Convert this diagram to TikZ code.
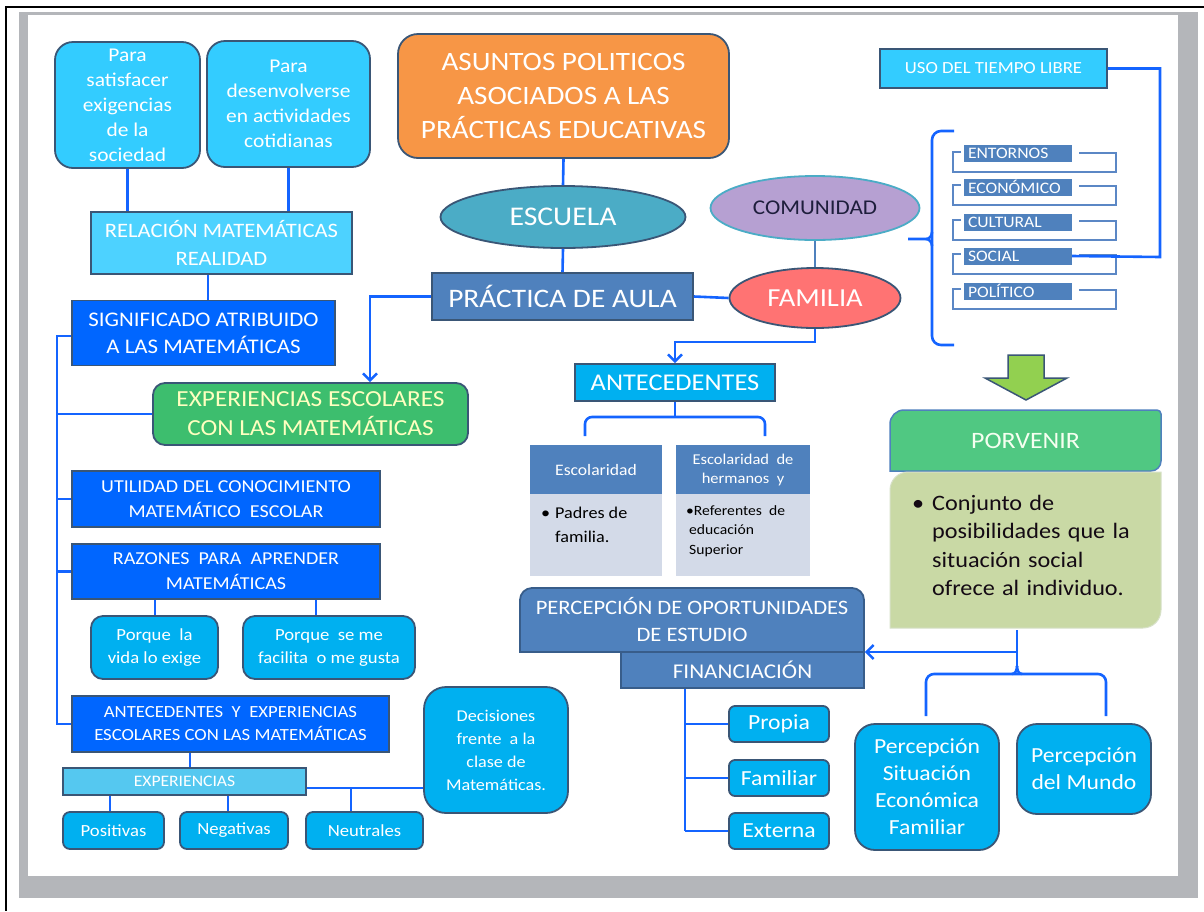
\documentclass[tikz,border=0pt]{standalone}
\usepackage{fontspec}
\setmainfont{Carlito}[FakeStretch=1.1]
\usetikzlibrary{arrows.meta,shapes.geometric}
\definecolor{cyanA}{HTML}{33CCFF}
\definecolor{cyanB}{HTML}{4DD2FF}
\definecolor{blueA}{HTML}{0066FF}
\definecolor{cyanC}{HTML}{00B0F0}
\definecolor{cyanD}{HTML}{55C8F0}
\definecolor{steel}{HTML}{4F81BD}
\definecolor{bord}{HTML}{3A5676}
\definecolor{lineblue}{HTML}{1464FF}
\definecolor{orangeA}{HTML}{F79646}
\definecolor{teal}{HTML}{4BACC6}
\definecolor{lilac}{HTML}{B6A0D2}
\definecolor{salmon}{HTML}{FF7373}
\definecolor{greenA}{HTML}{3DBE6E}
\definecolor{greenB}{HTML}{50C882}
\definecolor{olive}{HTML}{C9D9A5}
\definecolor{lime}{HTML}{92D050}
\definecolor{tabbody}{HTML}{D3DAE8}
\definecolor{lightyel}{HTML}{FFFFC0}
\definecolor{listline}{HTML}{5B87C5}
\definecolor{shadowgray}{HTML}{B4B6BA}
\definecolor{percbord}{HTML}{385D8A}
\tikzset{
  conn/.style={draw=lineblue, line width=2.6pt},
  bx/.style={draw=bord, line width=1.8pt, inner sep=0pt, align=center, text=white},
  arr/.style={-{Straight Barb[length=7pt,width=14pt,line width=2.4pt]}},
  lst/.style={fill=steel, inner sep=0pt, text=white, minimum height=17pt, text width=100pt, align=left, inner xsep=4pt, font=\fontsize{16}{17}\selectfont},
  lbr/.style={draw=listline, line width=1.8pt},
}
\begin{document}
\begin{tikzpicture}[x=1pt,y=-1pt]
\useasboundingbox (0,0) rectangle (1204,911);
\fill[white] (0,0) rectangle (1204,911);
% page frame
\fill[shadowgray] (19,12) rectangle (1198,898);
\fill[white] (28,15) rectangle (1178,876);
\draw[black, line width=2pt] (5,7) -- (1204,7);
\draw[black, line width=2pt] (6,7) -- (6,911);

% ---------- left column ----------
\node[bx, fill=cyanA, rounded corners=18pt, minimum width=145pt, minimum height=126pt,
  font=\fontsize{19.5}{25}\selectfont] (top1) at (127.5,105) {Para\\satisfacer\\exigencias\\de la\\sociedad};
\node[bx, fill=cyanA, rounded corners=18pt, minimum width=163pt, minimum height=126pt,
  font=\fontsize{19.5}{25}\selectfont] (top2) at (288.5,104) {Para\\desenvolverse\\en actividades\\cotidianas};
\node[bx, fill=cyanB, minimum width=261pt, minimum height=62pt,
  font=\fontsize{20.5}{28}\selectfont] (rel) at (221.5,243) {RELACIÓN MATEMÁTICAS\\REALIDAD};
\node[bx, fill=blueA, minimum width=263pt, minimum height=65pt,
  font=\fontsize{20.8}{27}\selectfont] (sig) at (203.5,333) {SIGNIFICADO ATRIBUIDO\\A LAS MATEMÁTICAS};
\node[bx, fill=greenA, text=lightyel, rounded corners=12pt, minimum width=315pt, minimum height=62pt,
  font=\fontsize{23}{29}\selectfont] (exp) at (310.5,414) {EXPERIENCIAS ESCOLARES\\CON LAS MATEMÁTICAS};
\node[bx, fill=blueA, minimum width=308pt, minimum height=56pt,
  font=\fontsize{18.2}{25}\selectfont] (util) at (226,499) {UTILIDAD DEL CONOCIMIENTO\\MATEMÁTICO\ \ ESCOLAR};
\node[bx, fill=blueA, minimum width=308pt, minimum height=55pt,
  font=\fontsize{18.2}{25}\selectfont] (raz) at (226,571.5) {RAZONES\ \ PARA\ \ APRENDER\\MATEMÁTICAS};
\node[bx, fill=cyanC, rounded corners=12pt, minimum width=127pt, minimum height=63pt,
  font=\fontsize{17}{23}\selectfont] (porq1) at (154.5,647.5) {Porque\ \ la\\vida lo exige};
\node[bx, fill=cyanC, rounded corners=12pt, minimum width=172pt, minimum height=63pt,
  font=\fontsize{17}{23}\selectfont] (porq2) at (329,647.5) {Porque\ \ se me\\facilita\ \ o me gusta};
\node[bx, fill=blueA, minimum width=317pt, minimum height=56pt,
  font=\fontsize{17}{23}\selectfont] (ant2) at (230.5,724) {ANTECEDENTES\ \ Y\ \ EXPERIENCIAS\\ESCOLARES CON LAS MATEMÁTICAS};
\node[bx, fill=cyanD, line width=1.5pt, minimum width=243pt, minimum height=27pt,
  font=\fontsize{16}{18}\selectfont] (expsm) at (184.5,781.5) {EXPERIENCIAS};
\node[bx, fill=cyanC, rounded corners=7pt, minimum width=101pt, minimum height=37pt,
  font=\fontsize{17}{19}\selectfont] (pos) at (113.5,830.5) {Positivas};
\node[bx, fill=cyanC, rounded corners=7pt, minimum width=108pt, minimum height=37pt,
  font=\fontsize{17}{19}\selectfont] (neg) at (234,830.5) {Negativas};
\node[bx, fill=cyanC, rounded corners=7pt, minimum width=117pt, minimum height=37pt,
  font=\fontsize{17}{19}\selectfont] (neu) at (364.5,830.5) {Neutrales};
\node[bx, fill=cyanC, rounded corners=22pt, minimum width=144pt, minimum height=126pt,
  font=\fontsize{16.5}{23}\selectfont] (dec) at (496,750) {Decisiones\\frente\ \ a la\\clase\ de\\Matemáticas.};

% ---------- centre ----------
\node[bx, fill=orangeA, rounded corners=20pt, minimum width=331pt, minimum height=124pt,
  font=\fontsize{26.5}{34}\selectfont] (asun) at (563.5,96) {ASUNTOS POLITICOS\\ASOCIADOS A LAS\\PRÁCTICAS EDUCATIVAS};
\node[bx, ellipse, fill=teal, minimum width=245pt, minimum height=62pt,
  font=\fontsize{27}{30}\selectfont] (esc) at (563,217) {ESCUELA};
\node[bx, fill=steel, minimum width=261pt, minimum height=47pt,
  font=\fontsize{26.7}{30}\selectfont] (prac) at (562.5,296.5) {PRÁCTICA DE AULA};
\node[bx, ellipse, fill=lilac, draw=teal, text={rgb,255:red,30;green,30;blue,60}, minimum width=209pt, minimum height=64pt,
  font=\fontsize{21}{24}\selectfont] (com) at (815,208) {COMUNIDAD};
\node[bx, ellipse, fill=salmon, minimum width=171pt, minimum height=60pt,
  font=\fontsize{26}{30}\selectfont] (fam) at (815,298) {FAMILIA};
\node[bx, fill=cyanC, minimum width=200pt, minimum height=37pt,
  font=\fontsize{24}{26}\selectfont] (ante) at (675,382.5) {ANTECEDENTES};

% table
\node[fill=steel, text=white, inner sep=0pt, minimum width=132pt, minimum height=49pt,
  font=\fontsize{16}{18}\selectfont] (tl) at (596,469.5) {Escolaridad};
\fill[tabbody] (530,494) rectangle (662,576);
\node[anchor=north west, inner sep=0pt, align=left,
  font=\fontsize{16.5}{24}\selectfont] (tlb) at (541,507) {\makebox[14pt][l]{\textbullet}Padres de\\\hspace*{14pt}familia.};
\node[fill=steel, text=white, inner sep=0pt, minimum width=134pt, minimum height=49pt, align=center,
  font=\fontsize{15}{19}\selectfont] (tr) at (743,469.5) {Escolaridad\ \ de\\hermanos\ \ y};
\fill[tabbody] (676,494) rectangle (810,576);
\node[anchor=north west, inner sep=0pt, align=left,
  font=\fontsize{14.2}{19.5}\selectfont] (trb) at (686,505) {\textbullet Referentes\ \ de\\\hspace*{3pt}educación\\\hspace*{3pt}Superior};

\node[bx, fill=steel, draw=percbord, minimum width=344pt, minimum height=64pt,
  rounded corners=12pt] (perc) at (692,620) {};
\fill[steel] (521,630) rectangle (863,651);
\draw[draw=percbord, line width=1.8pt] (520,625) -- (520,652) -- (864,652) -- (864,625);
\node[bx, fill=steel, draw=percbord, minimum width=243pt, minimum height=36pt,
  font=\fontsize{21}{24}\selectfont] (fin) at (742.5,670) {FINANCIACIÓN};
\node (perct) at (692,620) [align=center, text=white, font=\fontsize{20.5}{27}\selectfont] {PERCEPCIÓN DE OPORTUNIDADES\\DE ESTUDIO};

\node[bx, fill=cyanC, rounded corners=6pt, minimum width=100pt, minimum height=36pt,
  font=\fontsize{21.5}{24}\selectfont] (propia) at (779,724) {Propia};
\node[bx, fill=cyanC, rounded corners=6pt, minimum width=100pt, minimum height=36pt,
  font=\fontsize{21.5}{24}\selectfont] (famil) at (779,778) {Familiar};
\node[bx, fill=cyanC, rounded corners=6pt, minimum width=100pt, minimum height=36pt,
  font=\fontsize{21.5}{24}\selectfont] (ext) at (779,831) {Externa};

% ---------- right ----------
\node[bx, fill=cyanA, minimum width=227pt, minimum height=39pt,
  font=\fontsize{17}{18}\selectfont] (uso) at (993.5,68.5) {USO DEL TIEMPO LIBRE};

\node[lst] (l1) at (1018,153.5) {ENTORNOS};
\node[lst] (l2) at (1018,187) {ECONÓMICO};
\node[lst] (l3) at (1018,222) {CULTURAL};
\node[lst] (l4) at (1018,256) {SOCIAL};
\node[lst] (l5) at (1018,291) {POLÍTICO};
\foreach \yt in {145,178,213,247,282}{
  \draw[lbr] (961,\yt+7) -- (953,\yt+7) -- (953,\yt+27) -- (1116,\yt+27) -- (1116,\yt+8) -- (1079,\yt+8);
}

% big brace
\coordinate (bt) at (954,131);
\coordinate (bb) at (954,345);
\coordinate (btip) at (908,239);
\draw[conn, rounded corners=9pt] (bt) -- (932,131) -- (932,345) -- (bb);
\draw[conn] (btip) -- (926,239) to[out=0,in=-90] (932,232);
\draw[conn] (926,239) to[out=0,in=90] (932,246);

% green arrow
\draw[fill=lime, draw=bord, line width=1.5pt, line join=miter] (1008,355) -- (1044,355) -- (1044,378) -- (1067,378) -- (1026,400) -- (985,378) -- (1008,378) -- cycle;

% porvenir
\path[fill=greenB, draw=steel, line width=1.5pt] [rounded corners=14pt] (890,471) -- (890,410) [rounded corners=4pt] -- (1161,410) [rounded corners=10pt] -- (1161,471) [sharp corners] -- cycle;
\node[text={rgb,255:red,245;green,255;blue,240}, font=\fontsize{23.5}{26}\selectfont] (porv) at (1025.5,440.5) {PORVENIR};
\path[fill=olive, draw={rgb,255:red,215;green,225;blue,200}, line width=1pt] [rounded corners=18pt] (890,628) -- (890,472) [sharp corners] -- (1161,472) [rounded corners=18pt] -- (1161,628) [sharp corners] -- cycle;
\node[anchor=north west, text width=240pt, align=left, inner sep=0pt, text={rgb,255:red,20;green,10;blue,20},
  font=\fontsize{22}{28.5}\selectfont] (pbody) at (912,495) {\makebox[20pt][l]{\textbullet}Conjunto de\\\hspace*{20pt}posibilidades que la\\\hspace*{20pt}situación social\\\hspace*{20pt}ofrece al individuo.};
\coordinate (pb) at (1017,630);

\node[bx, fill=cyanC, rounded corners=20pt, minimum width=144pt, minimum height=126pt,
  font=\fontsize{21.5}{27}\selectfont] (pse) at (927,787) {Percepción\\Situación\\Económica\\Familiar};
\node[bx, fill=cyanC, rounded corners=20pt, minimum width=134pt, minimum height=90pt,
  font=\fontsize{21.5}{27}\selectfont] (pdm) at (1084,769) {Percepción\\del Mundo};

% ---------- connectors ----------
\draw[conn] (top1.south) -- (top1.south |- rel.north);
\draw[conn] (top2.south) -- (top2.south |- rel.north);
\draw[conn] (rel.south -| 208,0) -- (sig.north -| 208,0);
\draw[conn] (sig.west |- 0,336) -| (57,724) -- (ant2.west);
\draw[conn] (57,414) -- (exp.west);
\draw[conn] (57,499) -- (util.west);
\draw[conn] (57,571.5) -- (raz.west);
\draw[conn, arr] (prac.west) -| (exp.north -| 370,0);
\draw[conn] (raz.south -| 155,0) -- (porq1.north -| 155,0);
\draw[conn] (raz.south -| 316,0) -- (porq2.north -| 316,0);
\draw[conn] (ant2.south -| 190,0) -- (expsm.north -| 190,0);
\draw[conn] (expsm.east |- 0,788) -- (dec.west |- 0,788);
\draw[conn] (expsm.south -| 110,0) -- (pos.north -| 110,0);
\draw[conn] (expsm.south -| 228,0) -- (neg.north -| 228,0);
\draw[conn] (351,788) -- (neu.north -| 351,0);

\draw[conn] (asun.south) -- (esc.north);
\draw[conn] (esc.south) -- (prac.north);
\draw[conn] (prac.east) -- (fam.west);
\draw[draw=steel, line width=2.6pt] (com.south) -- (fam.north);
\draw[conn, arr] (fam.south) |- (675,342) -- (ante.north);
\draw[conn, rounded corners=7pt] (585,436) -- (585,417) -- (765,417) -- (765,436);
\draw[conn] (ante.south) -- (675,417);

\draw[conn] (fin.south -| 685,0) -- (685,831);
\draw[conn] (685,724) -- (propia.west);
\draw[conn] (685,778) -- (famil.west);
\draw[conn] (685,831) -- (ext.west);

\draw[conn] (uso.east) -- (1160,68.5) -- (1160,257) -- (l4.east);

\draw[conn] (pb) -- (1017,668);
\draw[conn, rounded corners=8pt] (926,716) -- (926,674) -- (1106,674) -- (1106,716);
\draw[conn] (1012,674) to[out=0,in=-90] (1017,666);
\draw[conn] (1022,674) to[out=180,in=-90] (1017,666);
\draw[conn, arr] (1017,652) -- (perc.east |- 0,652);
\end{tikzpicture}
\end{document}
